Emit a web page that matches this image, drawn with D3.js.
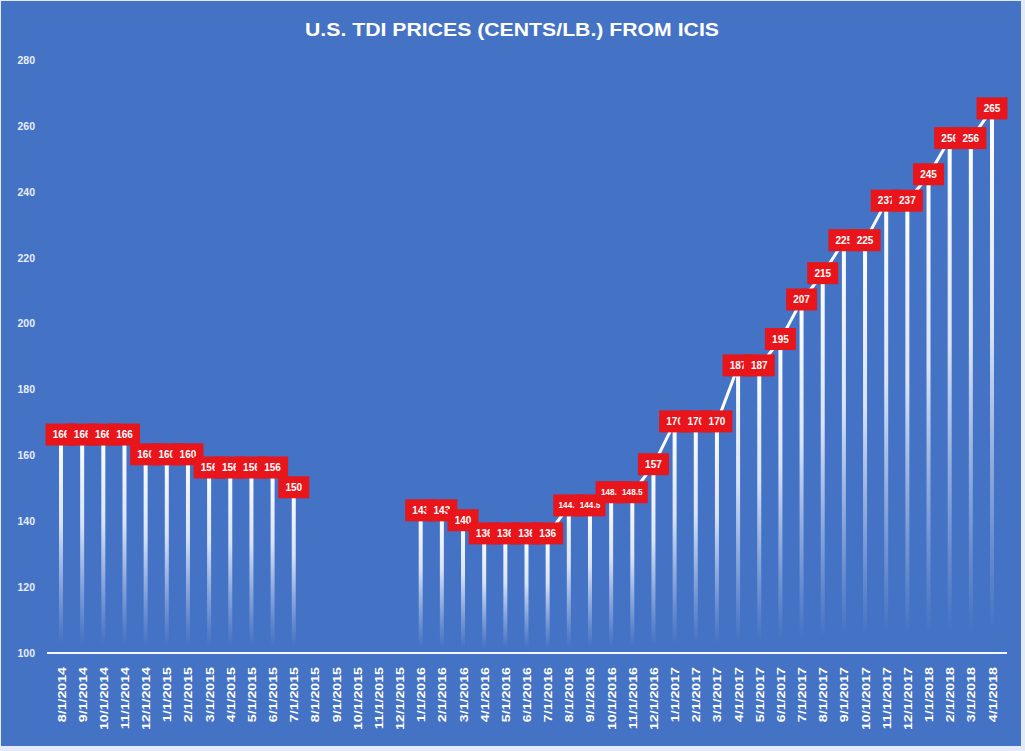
<!DOCTYPE html>
<html><head><meta charset="utf-8">
<script src="https://cdn.jsdelivr.net/npm/d3@7/dist/d3.min.js"></script>
<style>
html,body{margin:0;padding:0;background:#fff;}
svg{display:block;}
</style></head>
<body>
<script>
const title = "U.S. TDI PRICES (CENTS/LB.) FROM ICIS";
const dates = ["8/1/2014","9/1/2014","10/1/2014","11/1/2014","12/1/2014",
  "1/1/2015","2/1/2015","3/1/2015","4/1/2015","5/1/2015","6/1/2015","7/1/2015",
  "8/1/2015","9/1/2015","10/1/2015","11/1/2015","12/1/2015",
  "1/1/2016","2/1/2016","3/1/2016","4/1/2016","5/1/2016","6/1/2016","7/1/2016",
  "8/1/2016","9/1/2016","10/1/2016","11/1/2016","12/1/2016",
  "1/1/2017","2/1/2017","3/1/2017","4/1/2017","5/1/2017","6/1/2017","7/1/2017",
  "8/1/2017","9/1/2017","10/1/2017","11/1/2017","12/1/2017",
  "1/1/2018","2/1/2018","3/1/2018","4/1/2018"];
const prices = [166,166,166,166,160,
  160,160,156,156,156,156,150,
  null,null,null,null,null,
  143,143,140,136,136,136,136,
  144.5,144.5,148.5,148.5,157,
  170,170,170,187,187,195,207,
  215,225,225,237,237,
  245,256,256,265];
const yTicks = [100,120,140,160,180,200,220,240,260,280];

const W = 1025, H = 751;
const FONT = "'Liberation Sans','Arial',sans-serif";
const svg = d3.select("body").append("svg").attr("width", W).attr("height", H);
const defs = svg.append("defs");
const grad = defs.append("linearGradient").attr("id","dropGrad")
  .attr("x1",0).attr("y1",0).attr("x2",0).attr("y2",1);
grad.append("stop").attr("offset","0%").attr("stop-color","#ffffff").attr("stop-opacity",1);
grad.append("stop").attr("offset","40%").attr("stop-color","#eaf0fb").attr("stop-opacity",0.9);
grad.append("stop").attr("offset","96%").attr("stop-color","#c9d8f3").attr("stop-opacity",0.0);
grad.append("stop").attr("offset","100%").attr("stop-color","#c9d8f3").attr("stop-opacity",0.0);

// background
svg.append("rect").attr("width",W).attr("height",H).attr("fill","#e3ebf7");
svg.append("rect").attr("x",1).attr("y",1).attr("width",W-5).attr("height",H-6).attr("fill","#4472C4");

svg.append("text").attr("x",512).attr("y",36).attr("text-anchor","middle")
  .attr("font-family",FONT).attr("textLength",414).attr("lengthAdjust","spacingAndGlyphs")
  .attr("font-weight","bold").attr("font-size",19).attr("fill","#ffffff").text(title);

const x = d3.scalePoint().domain(dates).range([61, 992]);
const y = d3.scaleLinear().domain([100,280]).range([653, 60]);

// y axis labels
const yAxis = d3.axisLeft(y).tickValues(yTicks).tickSize(0).tickPadding(0);
const gy = svg.append("g").attr("transform","translate(35,0)").call(yAxis);
gy.select(".domain").remove();
gy.selectAll("text").attr("fill","#e8eefa").attr("font-size",10.5).attr("font-weight","bold")
  .attr("font-family",FONT);

const data = dates.map((d,i)=>({d, v: prices[i]}));
const valid = data.filter(p=>p.v!==null);

// drop bars
svg.append("g").selectAll("rect").data(valid).join("rect")
  .attr("x", p=>x(p.d)-2).attr("width",4)
  .attr("y", p=>y(p.v)).attr("height", p=>y(100)-y(p.v))
  .attr("fill","url(#dropGrad)");

// x axis
const xAxis = d3.axisBottom(x).tickSize(0).tickPadding(0);
const gx = svg.append("g").attr("transform",`translate(0,${y(100)})`).call(xAxis);
gx.select(".domain").remove();
svg.append("line").attr("x1",47).attr("x2",1007).attr("y1",y(100)).attr("y2",y(100))
  .attr("stroke","#f2f6fc").attr("stroke-width",2);
gx.selectAll("text").attr("fill","#ffffff").attr("font-size",10.5).attr("font-weight","bold")
  .attr("font-family",FONT)
  .attr("text-anchor","end").attr("dy",null).attr("y",null)
  .attr("transform","translate(4,14) rotate(-90) scale(1.35,1)");

// connecting line
const line = d3.line().defined(p=>p.v!==null).x(p=>x(p.d)).y(p=>y(p.v));
svg.append("path").datum(data).attr("d",line).attr("fill","none")
  .attr("stroke","#ffffff").attr("stroke-width",3);

// labels
const lg = svg.append("g").selectAll("g").data(valid).join("g")
  .attr("transform", p=>`translate(${x(p.d)},${y(p.v)-1})`);
lg.append("rect").attr("x",-15.5).attr("y",-11).attr("width",31).attr("height",22).attr("fill","#E8151B");
lg.append("text").attr("text-anchor","middle").attr("dy","0.36em")
  .attr("font-family",FONT)
  .attr("font-weight","bold").attr("fill","#ffffff")
  .attr("font-size", p=>String(p.v).length > 3 ? 8.2 : 10)
  .text(p=>String(p.v));
</script>
</body></html>
